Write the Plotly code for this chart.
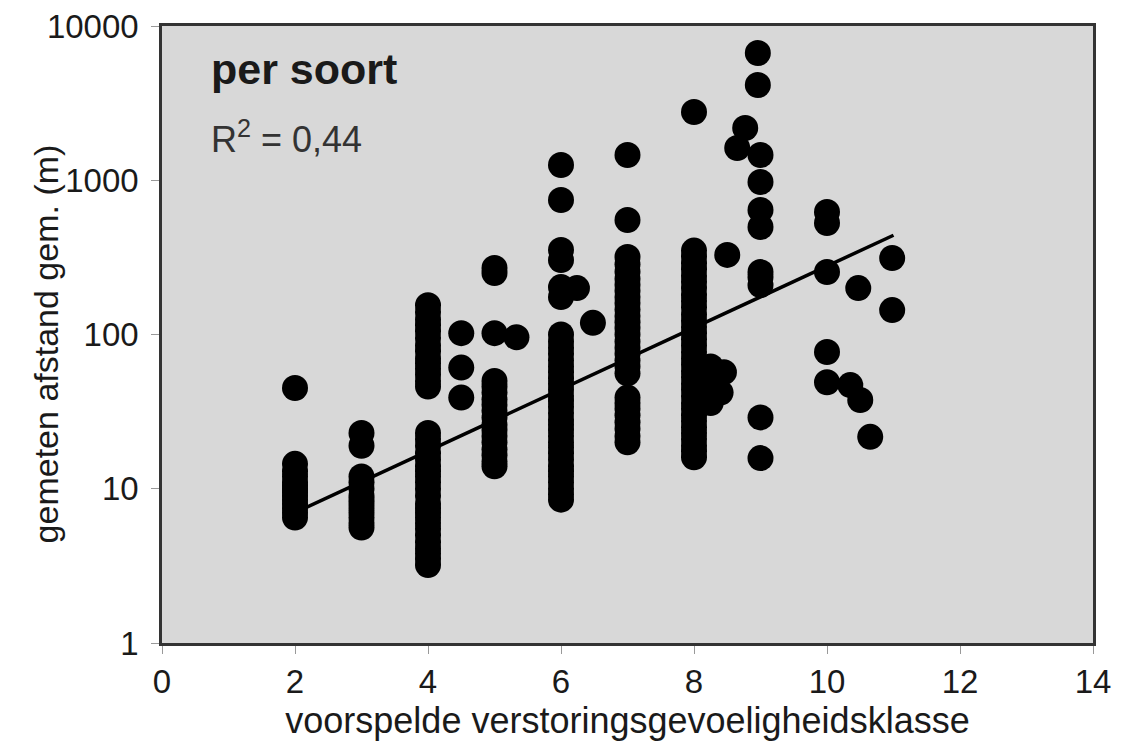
import plotly.graph_objects as go

x_class2 = [2] * 14
y_class2 = [45, 6.5, 7, 7.5, 8, 8.5, 9, 9.5, 10, 10.5, 11, 12, 13, 14.5]

x_class3 = [3] * 13
y_class3 = [23, 19, 5.6, 6, 6.5, 7, 7.5, 8, 8.5, 9, 10, 11, 12]

x_class4 = [4] * 37
y_class4 = [46, 50, 55, 60, 65, 70, 78, 85, 95, 105, 115, 125, 140, 155,
            3.2, 3.5, 3.8, 4.1, 4.5, 5, 5.5, 6, 6.5, 7, 7.5, 8, 9, 10, 11, 12,
            13, 14, 15.5, 17, 19, 21, 23]

x_class45 = [4.5, 4.5, 4.5]
y_class45 = [102, 61, 39]

x_class5 = [5] * 18 + [5.33]
y_class5 = [270, 250, 102, 14, 15, 16.5, 18, 20, 22, 24, 26, 29, 32, 35, 38, 42,
            46, 50, 96]

x_class6 = [6] * 35 + [6.24, 6.48]
y_class6 = [1256, 745, 353, 304, 203, 175,
            8.5, 9.2, 10, 11, 12, 13, 14, 15.5, 17, 18.5, 20, 22, 24, 26, 28, 31,
            34, 37, 40, 44, 48, 52, 57, 62, 68, 75, 82, 90, 100,
            200, 119]

x_class7 = [7] * 29
y_class7 = [1459, 552,
            56, 62, 68, 75, 82, 90, 100, 110, 120, 132, 145, 160, 175, 192, 210,
            230, 255, 285, 318,
            20, 22, 24.5, 27, 30, 33, 36, 39]

x_class8 = [8] * 35 + [8.25, 8.45, 8.3, 8.4, 8.25, 8.15, 8.5]
y_class8 = [2768,
            16, 17.5, 19, 21, 23, 25, 27.5, 30, 33, 36, 40, 44, 48, 53, 58, 64,
            70, 77, 85, 93, 102, 112, 123, 135, 150, 165, 180, 200, 220, 240,
            265, 290, 320, 350,
            62, 57, 48, 42, 36, 40, 328]

x_class9 = [8.65, 8.77, 8.96, 8.96] + [9] * 9
y_class9 = [1618, 2183, 6680, 4143, 1459, 975, 641, 498, 254, 236, 209, 29, 15.8]

x_class10 = [10, 10, 10, 10, 10, 10.35, 10.47, 10.5, 10.65, 10.98, 10.98]
y_class10 = [622, 528, 254, 77, 49, 47, 200, 37.6, 21.7, 313, 144]

trend_x = [2, 11]
trend_y = [7.0, 440]

x_ticks = [0, 2, 4, 6, 8, 10, 12, 14]
y_ticks = [1, 10, 100, 1000, 10000]
y_tick_labels = ["1", "10", "100", "1000", "10000"]

xs = (x_class2 + x_class3 + x_class4 + x_class45 + x_class5 + x_class6 +
      x_class7 + x_class8 + x_class9 + x_class10)
ys = (y_class2 + y_class3 + y_class4 + y_class45 + y_class5 + y_class6 +
      y_class7 + y_class8 + y_class9 + y_class10)

FONT = "Liberation Sans, Arial, sans-serif"
TXT = "#1a1a1a"

fig = go.Figure()
fig.add_trace(go.Scatter(
    x=xs, y=ys, mode="markers",
    marker=dict(color="black", size=26, line=dict(width=0)),
    showlegend=False, hoverinfo="skip",
))
fig.add_trace(go.Scatter(
    x=trend_x, y=trend_y, mode="lines",
    line=dict(color="black", width=3.5),
    showlegend=False, hoverinfo="skip",
))

fig.update_layout(
    width=1116, height=746,
    margin=dict(l=154, r=31, t=18, b=111, autoexpand=False),
    paper_bgcolor="white",
    plot_bgcolor="#d8d8d8",
    font=dict(family=FONT, size=33, color=TXT),
    xaxis=dict(
        range=[0, 14], tickvals=x_ticks, ticktext=[str(v) for v in x_ticks],
        showgrid=False, zeroline=False, automargin=False,
        showline=True, linecolor="#333333", linewidth=2.5, mirror=True,
        ticks="outside", ticklen=8, tickcolor="#999999", tickwidth=1,
        ticklabeloverflow="allow",
        tickfont=dict(size=33, family=FONT, color=TXT),
        title=dict(text="voorspelde verstoringsgevoeligheidsklasse",
                   font=dict(size=36, family=FONT, color=TXT), standoff=2),
    ),
    yaxis=dict(
        type="log", range=[0, 4],
        tickvals=y_ticks, ticktext=y_tick_labels,
        showgrid=False, zeroline=False, automargin=False,
        showline=True, linecolor="#333333", linewidth=2.5, mirror=True,
        ticks="outside", ticklen=8, tickcolor="#999999", tickwidth=1,
        ticklabelstandoff=6, ticklabeloverflow="allow",
        tickfont=dict(size=33, family=FONT, color=TXT),
    ),
    annotations=[
        dict(text="gemeten afstand gem. (m)", xref="paper", yref="paper",
             x=-0.125, y=0.485, xanchor="center", yanchor="middle",
             textangle=-90, showarrow=False,
             font=dict(size=34, family=FONT, color=TXT)),
        dict(text="<b>per soort</b>", xref="paper", yref="paper",
             x=0.05, y=0.93, xanchor="left", yanchor="middle",
             showarrow=False, font=dict(size=43, family=FONT, color=TXT)),
        dict(text="R<sup>2</sup> = 0,44", xref="paper", yref="paper",
             x=0.05, y=0.82, xanchor="left", yanchor="middle",
             showarrow=False, font=dict(size=36, family=FONT, color="#333333")),
    ],
)

fig.write_html("out.html")
